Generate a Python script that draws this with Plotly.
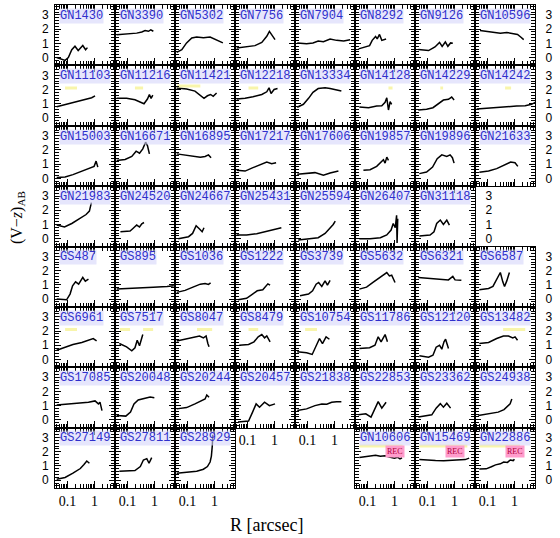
import plotly.graph_objects as go
from plotly.subplots import make_subplots

# ---------------- data ----------------
grid = [
    ["GN1430", "GN3390", "GN5302", "GN7756", "GN7904", "GN8292", "GN9126", "GN10596"],
    ["GN11103", "GN11216", "GN11421", "GN12218", "GN13334", "GN14128", "GN14229", "GN14242"],
    ["GN15003", "GN16671", "GN16895", "GN17217", "GN17606", "GN19857", "GN19896", "GN21633"],
    ["GN21983", "GN24520", "GN24667", "GN25431", "GN25594", "GN26407", "GN31118", None],
    ["GS487", "GS895", "GS1036", "GS1222", "GS3739", "GS5632", "GS6321", "GS6587"],
    ["GS6961", "GS7517", "GS8047", "GS8479", "GS10754", "GS11786", "GS12120", "GS13482"],
    ["GS17085", "GS20048", "GS20244", "GS20457", "GS21838", "GS22853", "GS23362", "GS24938"],
    ["GS27149", "GS27811", "GS28929", None, None, "GN10606", "GN15469", "GN22886"],
]

gn1430_r = [0.040, 0.082, 0.108, 0.145, 0.19, 0.25, 0.37, 0.47, 0.55]
gn1430_vz = [0.0, -0.2, 0.0, 0.55, 0.8, 0.5, 0.85, 0.55, 0.7]
gn3390_r = [0.040, 0.093, 0.22, 0.34, 0.45, 0.6, 0.73, 0.91]
gn3390_vz = [1.6, 1.65, 1.72, 1.8, 1.9, 1.85, 1.95, 1.85]
gn5302_r = [0.040, 0.062, 0.093, 0.145, 0.22, 0.39, 0.69, 1.2, 2.05]
gn5302_vz = [0.37, 0.56, 1.03, 1.38, 1.45, 1.4, 1.45, 1.26, 1.03]
gn7756_r = [0.040, 0.093, 0.19, 0.34, 0.52, 0.65, 0.79, 1.05]
gn7756_vz = [0.68, 0.75, 0.84, 1.07, 1.5, 1.84, 1.6, 1.26]
gn7904_r = [0.042, 0.093, 0.16, 0.25, 0.39, 0.69, 1.2, 2.2, 3.8]
gn7904_vz = [1.03, 0.98, 1.03, 1.17, 1.12, 1.31, 1.21, 1.17, 1.26]
gn8292_r = [0.047, 0.082, 0.12, 0.15, 0.2, 0.23, 0.28, 0.34, 0.49]
gn8292_vz = [0.61, 0.72, 0.84, 1.21, 1.49, 1.31, 1.63, 1.21, 1.31]
gn9126_r = [0.046, 0.11, 0.19, 0.28, 0.35, 0.46, 0.57, 0.72, 0.87]
gn9126_vz = [0.56, 0.49, 0.75, 1.07, 0.79, 1.1, 0.79, 1.03, 1.0]
gn10596_r = [0.053, 0.093, 0.165, 0.3, 0.52, 0.9, 1.3, 1.7, 2.2]
gn10596_vz = [1.91, 1.84, 1.77, 1.72, 1.77, 1.68, 1.63, 1.45, 1.26]

gn11103_r = [0.040, 0.093, 0.22, 0.45, 0.79, 1.05]
gn11103_vz = [0.79, 0.96, 1.14, 1.31, 1.42, 1.56]
gn11216_r = [0.040, 0.093, 0.19, 0.3, 0.41, 0.55, 0.65, 0.75, 0.87]
gn11216_vz = [1.38, 1.38, 1.28, 1.14, 1.0, 1.33, 1.65, 1.38, 1.61]
gn11421_r = [0.040, 0.093, 0.19, 0.3, 0.41, 0.55, 0.72, 0.9, 1.2]
gn11421_vz = [2.1, 2.03, 1.89, 1.56, 1.38, 1.56, 1.65, 1.52, 1.75]
gn12218_r = [0.040, 0.082, 0.16, 0.34, 0.52, 0.63, 0.75, 0.97, 1.3]
gn12218_vz = [1.33, 1.38, 1.49, 1.65, 1.84, 2.12, 1.72, 2.0, 2.07]
gn13334_r = [0.042, 0.071, 0.11, 0.16, 0.25, 0.45, 0.69, 0.9, 1.4, 1.8]
gn13334_vz = [0.75, 0.96, 1.38, 1.8, 2.07, 2.12, 2.07, 2.03, 1.93, 1.89]
gn14128_r = [0.05, 0.11, 0.22, 0.34, 0.45, 0.52, 0.6, 0.69, 0.79]
gn14128_vz = [0.77, 0.72, 0.84, 0.86, 1.1, 1.42, 0.56, 1.14, 0.96]
gn14229_r = [0.046, 0.093, 0.16, 0.25, 0.39, 0.6, 0.79, 0.97]
gn14229_vz = [0.56, 0.61, 0.72, 0.96, 1.26, 1.31, 1.47, 1.26]
gn14242_r = [0.040, 0.093, 0.22, 0.52, 1.2, 2.5, 4.3, 5.9]
gn14242_vz = [0.63, 0.68, 0.77, 0.79, 0.84, 0.86, 0.96, 1.1]

gn15003_r = [0.040, 0.082, 0.16, 0.34, 0.6, 0.97, 1.15, 1.33]
gn15003_vz = [0.05, 0.09, 0.26, 0.51, 0.72, 0.84, 1.21, 0.79]
gn16671_r = [0.040, 0.082, 0.145, 0.21, 0.28, 0.37, 0.47, 0.55, 0.65]
gn16671_vz = [1.26, 1.33, 1.54, 1.91, 1.77, 2.07, 2.54, 2.3, 1.72]
gn16895_r = [0.040, 0.082, 0.16, 0.3, 0.45, 0.6, 0.75]
gn16895_vz = [1.72, 1.63, 1.54, 1.49, 1.54, 1.65, 1.45]
gn17217_r = [0.040, 0.082, 0.16, 0.3, 0.52, 0.79, 1.15]
gn17217_vz = [0.56, 0.51, 0.75, 0.98, 1.14, 1.03, 1.1]
gn17606_r = [0.042, 0.093, 0.19, 0.39, 0.69, 1.4]
gn17606_vz = [0.28, 0.33, 0.4, 0.21, 0.37, 0.51]
gn19857_r = [0.071, 0.125, 0.22, 0.32, 0.39, 0.45, 0.52, 0.6]
gn19857_vz = [0.56, 0.61, 0.84, 1.14, 1.31, 1.07, 1.49, 1.26]
gn19896_r = [0.05, 0.093, 0.155, 0.23, 0.34, 0.52, 0.69, 0.84, 0.97]
gn19896_vz = [0.33, 0.44, 0.79, 1.38, 1.65, 1.54, 1.65, 1.45, 1.07]
gn21633_r = [0.05, 0.11, 0.22, 0.45, 0.72, 1.05, 1.33]
gn21633_vz = [0.42, 0.51, 0.68, 0.96, 1.14, 1.1, 0.84]

gn21983_r = [0.040, 0.078, 0.145, 0.28, 0.49, 0.65, 0.77]
gn21983_vz = [0.96, 0.82, 1.07, 1.42, 1.7, 1.94, 2.54]
gn24520_r = [0.055, 0.125, 0.16, 0.22, 0.28, 0.34, 0.41]
gn24520_vz = [0.49, 0.54, 0.72, 0.96, 0.82, 1.05, 1.14]
gn24667_r = [0.046, 0.11, 0.155, 0.21, 0.28, 0.35, 0.41]
gn24667_vz = [0.0, 0.14, 0.37, 0.91, 0.68, 0.49, 0.77]
gn25431_r = [0.040, 0.093, 0.22, 0.52, 1.05, 1.8]
gn25431_vz = [0.26, 0.26, 0.35, 0.54, 0.68, 0.77]
gn25594_r = [0.046, 0.11, 0.25, 0.45, 0.69, 0.9, 1.07]
gn25594_vz = [-0.09, 0.0, 0.07, 0.37, 0.72, 1.0, 1.24]
gn26407_r = [0.05, 0.125, 0.3, 0.52, 0.75, 0.9, 1.07, 1.2, 1.25, 1.32]
gn26407_vz = [0.0, 0.0, 0.07, 0.26, 0.61, 1.07, 0.77, 1.65, -0.3, 1.4]
gn31118_r = [0.05, 0.125, 0.175, 0.22, 0.3, 0.39, 0.52, 0.65]
gn31118_vz = [0.19, 0.26, 0.49, 1.07, 1.31, 1.0, 1.31, 0.96]

gs487_r = [0.040, 0.093, 0.125, 0.155, 0.2, 0.26, 0.37, 0.46, 0.6]
gs487_vz = [0.0, -0.05, 0.35, 0.93, 1.21, 1.05, 1.52, 1.26, 1.4]
gs895_r = [0.040, 0.093, 0.3, 0.9, 2.9, 5.2]
gs895_vz = [0.7, 0.75, 0.79, 0.84, 0.89, 0.93]
gs1036_r = [0.040, 0.082, 0.16, 0.3, 0.45, 0.6, 0.72]
gs1036_vz = [0.47, 0.61, 0.84, 1.05, 1.1, 1.03, 1.14]
gs1222_r = [0.045, 0.093, 0.155, 0.23, 0.37, 0.49, 0.57, 0.69]
gs1222_vz = [-0.05, 0.05, 0.35, 0.58, 0.65, 0.98, 1.07, 0.98]
gs3739_r = [0.053, 0.11, 0.155, 0.21, 0.26, 0.34, 0.45, 0.55, 0.69]
gs3739_vz = [0.23, 0.35, 0.58, 1.05, 1.17, 0.89, 1.28, 0.98, 1.31]
gs5632_r = [0.05, 0.093, 0.16, 0.28, 0.41, 0.52, 0.65, 0.79, 1.05]
gs5632_vz = [0.7, 0.84, 1.17, 1.52, 1.72, 1.86, 1.63, 1.68, 1.17]
gs6321_r = [0.046, 0.125, 0.3, 0.6, 0.87, 1.05, 1.8]
gs6321_vz = [1.52, 1.47, 1.4, 1.35, 1.59, 1.35, 1.33]
gs6587_r = [0.05, 0.11, 0.16, 0.22, 0.3, 0.37, 0.43, 0.52, 0.65]
gs6587_vz = [0.65, 0.75, 0.89, 1.35, 1.87, 1.21, 0.89, 1.28, 1.87]

gs6961_r = [0.040, 0.082, 0.16, 0.34, 0.65, 0.9, 1.2]
gs6961_vz = [0.65, 0.84, 1.05, 1.19, 1.35, 1.47, 1.31]
gs7517_r = [0.05, 0.093, 0.145, 0.19, 0.23, 0.28, 0.37]
gs7517_vz = [1.12, 0.89, 0.61, 0.82, 1.35, 0.96, 1.75]
gs8047_r = [0.040, 0.082, 0.16, 0.28, 0.39, 0.49, 0.57, 0.63]
gs8047_vz = [1.3, 1.42, 1.52, 1.65, 1.52, 1.65, 1.12, 0.89]
gs8479_r = [0.05, 0.11, 0.175, 0.25, 0.34, 0.43, 0.52, 0.69]
gs8479_vz = [1.0, 1.05, 1.24, 1.59, 1.75, 1.52, 1.65, 1.24]
gs10754_r = [0.042, 0.093, 0.15, 0.21, 0.28, 0.36, 0.49, 0.65]
gs10754_vz = [0.54, 0.47, 0.35, 1.0, 1.47, 1.12, 1.59, 1.42]
gs11786_r = [0.05, 0.12, 0.19, 0.25, 0.32, 0.45, 0.55]
gs11786_vz = [0.77, 0.82, 1.0, 1.59, 1.24, 1.75, 1.24]
gs12120_r = [0.05, 0.11, 0.16, 0.21, 0.28, 0.34, 0.41, 0.47, 0.6]
gs12120_vz = [0.26, 0.16, 0.3, 0.86, 1.0, 0.72, 1.24, 1.42, 0.77]
gs13482_r = [0.05, 0.11, 0.22, 0.39, 0.6, 0.87, 1.05, 1.3]
gs13482_vz = [1.12, 1.19, 1.47, 1.65, 1.65, 1.52, 1.59, 1.35]

gs17085_r = [0.040, 0.093, 0.25, 0.6, 1.05, 1.4, 1.6, 1.9]
gs17085_vz = [1.05, 1.1, 1.19, 1.24, 1.33, 1.12, 1.24, 0.65]
gs20048_r = [0.040, 0.087, 0.13, 0.175, 0.25, 0.45, 0.69, 0.99]
gs20048_vz = [0.3, 0.26, 0.54, 1.12, 1.4, 1.54, 1.61, 1.56]
gs20244_r = [0.040, 0.093, 0.19, 0.34, 0.45, 0.52, 0.63]
gs20244_vz = [0.77, 0.86, 1.12, 1.35, 1.47, 1.75, 1.59]
gs20457_r = [0.045, 0.11, 0.155, 0.21, 0.28, 0.43, 0.65, 1.05]
gs20457_vz = [-0.16, -0.09, 0.54, 1.12, 0.89, 1.24, 1.0, 1.12]
gs21838_r = [0.042, 0.093, 0.19, 0.34, 0.52, 0.79, 1.2, 1.8]
gs21838_vz = [0.65, 0.77, 1.0, 1.12, 1.1, 1.24, 1.28, 1.28]
gs22853_r = [0.046, 0.087, 0.136, 0.19, 0.25, 0.34, 0.49]
gs22853_vz = [0.35, 0.42, 0.19, 0.77, 1.28, 0.82, 1.24]
gs23362_r = [0.046, 0.093, 0.145, 0.21, 0.3, 0.39, 0.52, 0.72]
gs23362_vz = [0.19, 0.26, 0.35, 0.82, 1.14, 0.89, 1.17, 0.82]
gs24938_r = [0.046, 0.11, 0.25, 0.41, 0.57, 0.69, 0.8]
gs24938_vz = [0.3, 0.4, 0.54, 0.72, 0.96, 1.12, 1.47]

gs27149_r = [0.040, 0.082, 0.16, 0.3, 0.41, 0.52, 0.65]
gs27149_vz = [0.07, 0.19, 0.49, 0.82, 1.1, 1.35, 1.19]
gs27811_r = [0.05, 0.11, 0.19, 0.3, 0.39, 0.52, 0.63, 0.79]
gs27811_vz = [0.63, 0.63, 0.68, 0.96, 1.42, 1.52, 1.19, 1.59]
gs28929_r = [0.040, 0.093, 0.22, 0.39, 0.55, 0.69, 0.77, 0.83, 0.87]
gs28929_vz = [0.49, 0.56, 0.63, 0.77, 0.96, 1.28, 1.7, 2.4, 3.2]
gn10606_r = [0.05, 0.08, 0.12, 0.2, 0.3, 0.45, 0.7, 1.0, 1.3, 1.6, 1.9]
gn10606_vz = [1.6, 1.65, 1.72, 1.75, 1.68, 1.72, 1.62, 1.55, 1.62, 1.5, 1.58]
gn15469_r = [0.05, 0.1, 0.2, 0.4, 0.8, 1.5, 2.5, 3.5]
gn15469_vz = [1.45, 1.4, 1.38, 1.36, 1.38, 1.4, 1.45, 1.55]
gn22886_r = [0.05, 0.09, 0.14, 0.2, 0.3, 0.4, 0.55, 0.7, 0.9, 1.0]
gn22886_vz = [0.78, 0.8, 0.95, 1.08, 1.15, 1.28, 1.25, 1.42, 1.38, 1.48]

# faint yellow reference bars
yellow_panels = ["GN11103", "GN11216", "GN11421", "GN12218", "GN14128", "GN14229", "GN14242",
                 "GS6961", "GS7517", "GS7517", "GS8047", "GS8479", "GS10754", "GS13482",
                 "GN10606", "GN15469", "GN22886"]
yellow_r0 = [0.082, 0.19, 0.042, 0.11, 0.6, 0.3, 0.45, 0.082, 0.053, 0.38, 0.226, 0.11, 0.082, 0.38,
             0.05, 0.05, 0.05]
yellow_r1 = [0.226, 0.38, 0.3, 0.25, 0.85, 0.38, 0.75, 0.226, 0.125, 0.89, 0.82, 0.25, 0.226, 2.5,
             2.0, 3.0, 1.6]
yellow_vz = [2.1, 2.1, 2.25, 2.1, 2.1, 2.1, 2.1, 2.1, 2.1, 2.1, 2.1, 2.1, 2.1, 2.1, 2.4, 2.4, 2.4]

rec_panels = ["GN10606", "GN15469", "GN22886"]

x_major = [0.1, 1]
x_major_text = ["0.1", "1"]
x_minor = [0.04, 0.05, 0.06, 0.07, 0.08, 0.09, 0.2, 0.3, 0.4, 0.5, 0.6, 0.7, 0.8, 0.9, 2, 3, 4, 5, 6]
y_major = [0, 1, 2, 3]

# ---------------- figure ----------------
NR, NC = 8, 8
fig = make_subplots(rows=NR, cols=NC, horizontal_spacing=0, vertical_spacing=0)

g = globals()
panel_pos = {}
for r in range(NR):
    for c in range(NC):
        name = grid[r][c]
        idx = r * NC + c + 1
        sfx = "" if idx == 1 else str(idx)
        if name is None:
            fig.update_xaxes(visible=False, row=r + 1, col=c + 1)
            fig.update_yaxes(visible=False, row=r + 1, col=c + 1)
            continue
        panel_pos[name] = (r, c, sfx)
        rr = g[name.lower() + "_r"]
        vv = g[name.lower() + "_vz"]
        fig.add_trace(go.Scatter(x=rr, y=vv, mode="lines",
                                 line=dict(color="black", width=1.5),
                                 showlegend=False, hoverinfo="skip"),
                      row=r + 1, col=c + 1)
        show_x = (r == 7 and c in (0, 1, 2, 5, 6, 7)) or (r == 6 and c in (3, 4))
        fig.update_xaxes(type="log", range=[-1.46, 0.76],
                         showline=True, linecolor="black", linewidth=1, mirror="allticks",
                         ticks="inside", ticklen=7, tickwidth=1, tickcolor="black",
                         tickmode="array", tickvals=x_major, ticktext=x_major_text,
                         showticklabels=show_x,
                         tickfont=dict(family="Liberation Serif", size=14, color="black"),
                         minor=dict(ticks="inside", ticklen=4, tickcolor="black",
                                    tickmode="array", tickvals=x_minor, showgrid=False),
                         showgrid=False, zeroline=False,
                         row=r + 1, col=c + 1)
        if c == 0:
            yside, show_y, stand = "left", True, 3
        elif c == 7 or (r == 3 and c == 6):
            yside, show_y, stand = "right", True, 7
        else:
            yside, show_y, stand = "left", False, 0
        fig.update_yaxes(range=[-0.55, 3.7],
                         showline=True, linecolor="black", linewidth=1, mirror="allticks",
                         ticks="inside", ticklen=6, tickwidth=1, tickcolor="black",
                         tickmode="array", tickvals=y_major,
                         showticklabels=show_y, side=yside, ticklabelstandoff=stand,
                         tickfont=dict(family="Liberation Sans", size=12, color="black"),
                         minor=dict(ticks="inside", ticklen=4, tickcolor="black", dtick=0.2,
                                    showgrid=False),
                         showgrid=False, zeroline=False,
                         row=r + 1, col=c + 1)
        fig.add_annotation(text=name, xref=f"x{sfx} domain", yref=f"y{sfx} domain",
                           x=0.07, y=0.82, xanchor="left", yanchor="middle", showarrow=False,
                           font=dict(family="Liberation Mono", size=12, color="#2f2fcc"),
                           bgcolor="rgba(214,214,250,0.6)", borderpad=0)

# yellow bars
for pn, a, b, v in zip(yellow_panels, yellow_r0, yellow_r1, yellow_vz):
    r, c, sfx = panel_pos[pn]
    fig.add_trace(go.Scatter(x=[a, b], y=[v, v], mode="lines",
                             line=dict(color="rgba(246,242,150,0.8)", width=3),
                             showlegend=False, hoverinfo="skip"),
                  row=r + 1, col=c + 1)

# REC boxes
for pn in rec_panels:
    r, c, sfx = panel_pos[pn]
    fig.add_annotation(text="REC", xref=f"x{sfx} domain", yref=f"y{sfx} domain",
                       x=0.66, y=0.6, xanchor="center", yanchor="middle", showarrow=False,
                       font=dict(family="Liberation Serif", size=8, color="#b0003a"),
                       bgcolor="#ff9ccc", borderpad=1)

# axis titles
fig.add_annotation(text="(V\u2212<i>z</i>)<sub>AB</sub>", xref="paper", yref="paper",
                   x=-0.078, y=0.56, xanchor="center", yanchor="middle", textangle=-90,
                   showarrow=False, font=dict(family="Liberation Serif", size=16, color="black"))
fig.add_annotation(text="R [arcsec]", xref="paper", yref="paper",
                   x=0.44, y=-0.077, xanchor="center", yanchor="middle",
                   showarrow=False, font=dict(family="Liberation Serif", size=18, color="black"))

fig.update_layout(width=560, height=538,
                  margin=dict(l=55, r=25, t=5, b=50),
                  paper_bgcolor="white", plot_bgcolor="white",
                  showlegend=False)

fig.write_html("out.html")
